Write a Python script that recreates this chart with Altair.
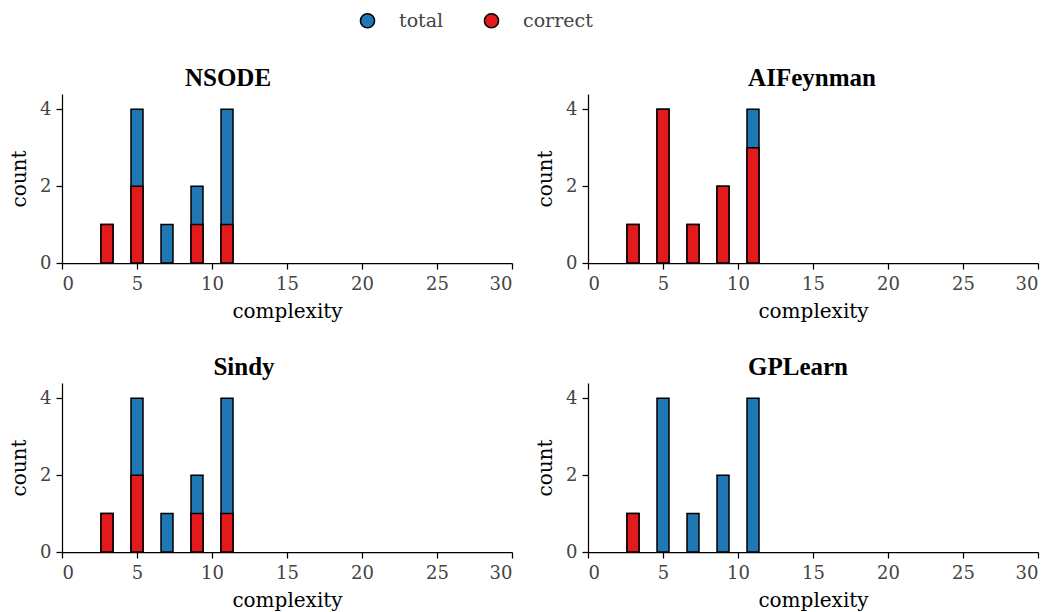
import altair as alt
import pandas as pd

methods = ["NSODE", "AIFeynman", "Sindy", "GPLearn"]
complexity = [3, 5, 7, 9, 11]
total_nsode = [1, 4, 1, 2, 4]
correct_nsode = [1, 2, 0, 1, 1]
total_aifeynman = [1, 4, 1, 2, 4]
correct_aifeynman = [1, 4, 1, 2, 3]
total_sindy = [1, 4, 1, 2, 4]
correct_sindy = [1, 2, 0, 1, 1]
total_gplearn = [1, 4, 1, 2, 4]
correct_gplearn = [1, 0, 0, 0, 0]

series = {
    "NSODE": (total_nsode, correct_nsode),
    "AIFeynman": (total_aifeynman, correct_aifeynman),
    "Sindy": (total_sindy, correct_sindy),
    "GPLearn": (total_gplearn, correct_gplearn),
}
title_dx = {"NSODE": -59, "AIFeynman": -1, "Sindy": -43, "GPLearn": -15}

BAR_HALF = 0.4


def panel(name, show_legend=False):
    tot, cor = series[name]
    rows = []
    for kind, vals in (("total", tot), ("correct", cor)):
        for c, v in zip(complexity, vals):
            if v > 0:
                rows.append({"lo": c - BAR_HALF, "hi": c + BAR_HALF,
                             "count": v, "kind": kind})
    df = pd.DataFrame(rows)
    legend = alt.Legend(
        title=None, orient="none", direction="horizontal",
        legendX=296, legendY=-83,
        symbolType="circle", symbolSize=200, symbolStrokeColor="black",
        symbolStrokeWidth=1.5, symbolOpacity=1,
        labelFont="DejaVu Serif", labelFontSize=19, labelColor="#444444",
        labelOffset=22, columnPadding=37,
    ) if show_legend else None
    color = alt.Color(
        "kind:N",
        scale=alt.Scale(domain=["total", "correct"], range=["#1f77b4", "#e31a1c"]),
        legend=legend,
        sort=["total", "correct"],
    )
    return (
        alt.Chart(df)
        .mark_bar(stroke="black", strokeWidth=1.5, opacity=1)
        .encode(
            x=alt.X("lo:Q", title="complexity",
                    scale=alt.Scale(domain=[0, 30], nice=False),
                    axis=alt.Axis(values=[0, 5, 10, 15, 20, 25, 30])),
            x2="hi:Q",
            y=alt.Y("count:Q", title="count",
                    scale=alt.Scale(domain=[0, 4.4], nice=False),
                    axis=alt.Axis(values=[0, 2, 4])),
            y2=alt.datum(0),
            color=color,
        )
        .properties(
            width=450, height=169,
            title=alt.TitleParams(
                name, font="Liberation Serif", fontSize=25, fontWeight="bold",
                color="black", offset=3, dx=title_dx[name], anchor="middle",
            ),
        )
    )


top = alt.hconcat(panel("NSODE", True), panel("AIFeynman"), spacing=22)
bottom = alt.hconcat(panel("Sindy"), panel("GPLearn"), spacing=22)
chart = (
    alt.vconcat(top, bottom, spacing=34)
    .resolve_scale(color="shared")
    .configure_view(stroke=None)
    .configure_axis(
        grid=False, domainColor="black", domainWidth=1.25,
        tickColor="black", tickWidth=1.25, tickSize=6,
        labelFont="DejaVu Serif", labelFontSize=18, labelColor="#444444",
        titleFont="DejaVu Serif", titleFontSize=20, titleFontWeight="normal",
        titleColor="black",
    )
    .configure_axisX(labelPadding=6, titlePadding=8)
    .configure_axisY(labelPadding=5, titlePadding=10)
    .properties(padding={"left": 1, "top": 3, "right": 5, "bottom": 5})
)

chart.save("out.html", embed_options={"renderer": "svg", "actions": False})
